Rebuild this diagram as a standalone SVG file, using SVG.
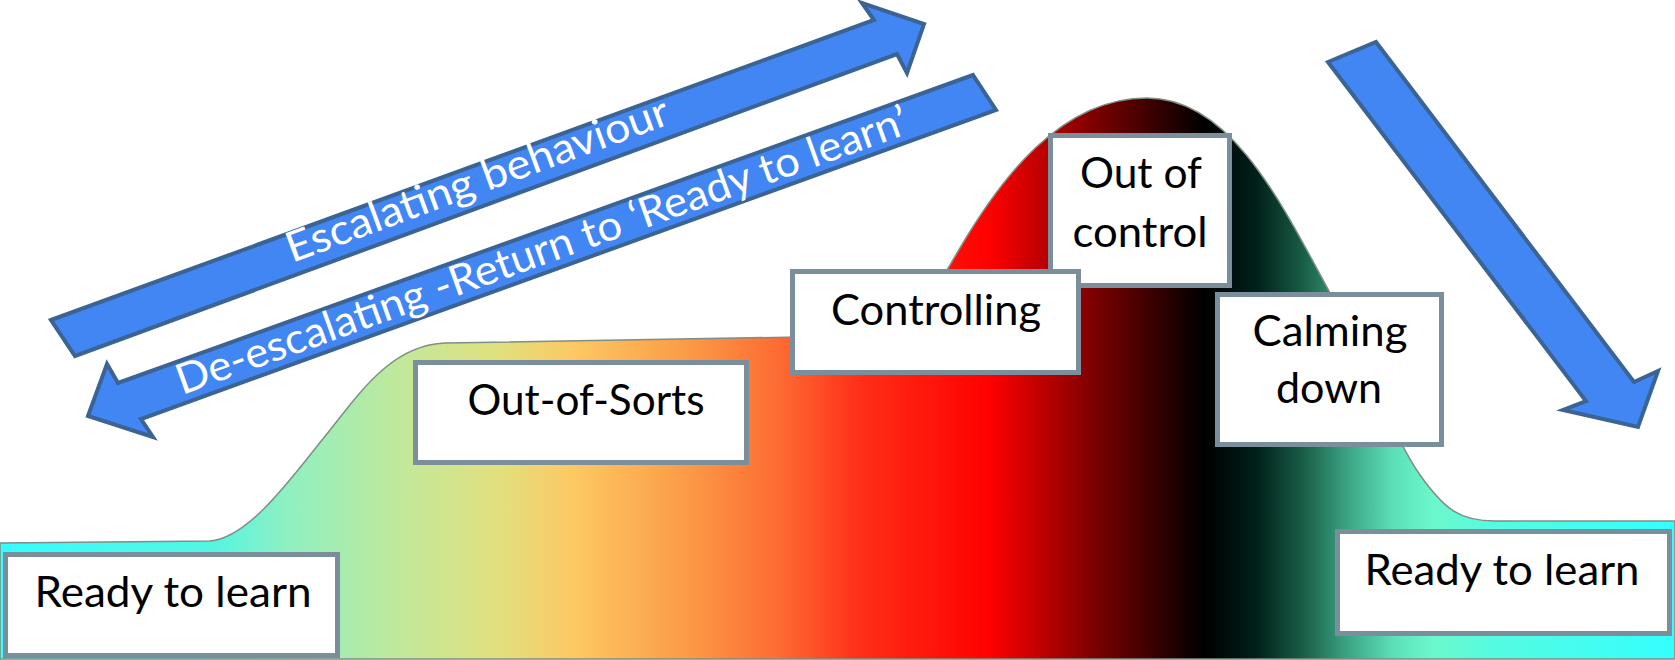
<svg xmlns="http://www.w3.org/2000/svg" width="1675" height="660" viewBox="0 0 1675 660">
<defs>
<linearGradient id="heat" gradientUnits="userSpaceOnUse" x1="0" y1="0" x2="1675" y2="0">
<stop offset="0" stop-color="#33ffff"/>
<stop offset="0.128" stop-color="#55f5e2"/>
<stop offset="0.171" stop-color="#8ff0c2"/>
<stop offset="0.240" stop-color="#c2e89a"/>
<stop offset="0.2985" stop-color="#e2e07e"/>
<stop offset="0.343" stop-color="#fdc862"/>
<stop offset="0.411" stop-color="#fb9a46"/>
<stop offset="0.463" stop-color="#fd6d33"/>
<stop offset="0.514" stop-color="#ff2e18"/>
<stop offset="0.591" stop-color="#ff0000"/>
<stop offset="0.651" stop-color="#800000"/>
<stop offset="0.719" stop-color="#000000"/>
<stop offset="0.750" stop-color="#00201a"/>
<stop offset="0.779" stop-color="#1a6048"/>
<stop offset="0.803" stop-color="#3aa080"/>
<stop offset="0.832" stop-color="#5ce0b8"/>
<stop offset="0.856" stop-color="#6cf8cc"/>
<stop offset="0.891" stop-color="#55fbe0"/>
<stop offset="1" stop-color="#33ffff"/>
</linearGradient>
</defs>
<style>
.box{fill:#ffffff;stroke:#7b8e9b;stroke-width:5}
.lbl{font-family:Lato,"Open Sans","Liberation Sans",sans-serif;font-size:43px;fill:#000000;text-anchor:middle}
.arrow{fill:#4286f4;stroke:#3b6494;stroke-width:4;stroke-linejoin:miter}
.atxt{font-family:Lato,"Open Sans","Liberation Sans",sans-serif;font-size:42px;fill:#ffffff}
</style>
<rect width="1675" height="660" fill="#ffffff"/>
<path id="curve" d="M0,543 L210,541 C248,538 290,480 322,440 C355,400 388,345 445,343 L800,337 L880,334 C915,332 935,290 960,248 C1000,180 1060,98 1147,98 C1230,98 1280,200 1330,293 C1370,370 1395,440 1420,475 C1445,510 1460,521 1495,521 L1675,521 L1675,659 L0,659 Z" fill="url(#heat)" stroke="#7f8f84" stroke-width="1.5"/>
<g id="connectors">
<g id="arrow-escalating">
<polygon class="arrow" points="51,320 874,20 862,3 924,24 907,73 897,54 75,356"/>
<text class="atxt" transform="translate(292,263) rotate(-20.2)" textLength="405" lengthAdjust="spacingAndGlyphs">Escalating behaviour</text>
</g>
<g id="arrow-deescalating">
<polygon class="arrow" points="973,75 996,110 141,419 153,437 88,416 107,364 118,383"/>
<text class="atxt" transform="translate(182,395) rotate(-19.8)" textLength="775" lengthAdjust="spacingAndGlyphs">De-escalating -Return to ‘Ready to learn’</text>
</g>
<g id="arrow-return">
<polygon class="arrow" points="1376,42 1634,382 1658,371 1638,427 1563,410 1586,401 1328,62"/>
</g>
</g>
<g id="node-ready-left">
<rect class="box" x="5.5" y="554.5" width="332" height="101"/>
<text class="lbl" x="173" y="607" textLength="277" lengthAdjust="spacingAndGlyphs">Ready to learn</text>
</g>
<g id="node-out-of-sorts">
<rect class="box" x="415.5" y="362.5" width="331" height="100"/>
<text class="lbl" x="586" y="415" textLength="237" lengthAdjust="spacingAndGlyphs">Out-of-Sorts</text>
</g>
<g id="node-out-of-control">
<rect class="box" x="1050.5" y="135.5" width="179" height="150"/>
<text class="lbl" x="1141" y="188" textLength="122" lengthAdjust="spacingAndGlyphs">Out of</text>
<text class="lbl" x="1140" y="247" textLength="135" lengthAdjust="spacingAndGlyphs">control</text>
</g>
<g id="node-controlling">
<rect class="box" x="792.5" y="271.5" width="286" height="101"/>
<text class="lbl" x="936" y="325" textLength="210" lengthAdjust="spacingAndGlyphs">Controlling</text>
</g>
<g id="node-calming-down">
<rect class="box" x="1217.5" y="294.5" width="224" height="150"/>
<text class="lbl" x="1330" y="346" textLength="155" lengthAdjust="spacingAndGlyphs">Calming</text>
<text class="lbl" x="1329" y="403" textLength="106" lengthAdjust="spacingAndGlyphs">down</text>
</g>
<g id="node-ready-right">
<rect class="box" x="1337.5" y="531.5" width="332" height="102"/>
<text class="lbl" x="1502" y="585" textLength="275" lengthAdjust="spacingAndGlyphs">Ready to learn</text>
</g>
</svg>
